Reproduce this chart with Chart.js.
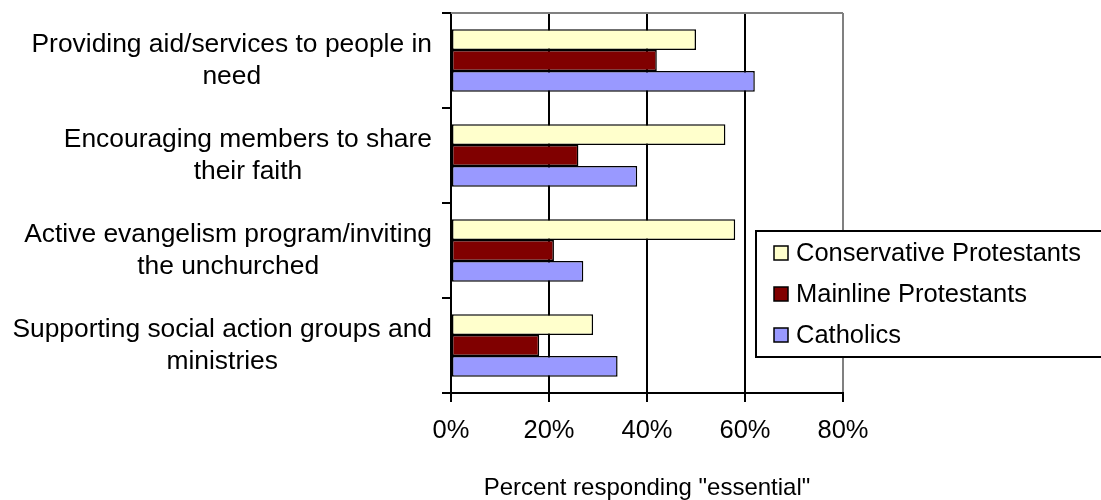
<!DOCTYPE html>
<html>
<head>
<meta charset="utf-8">
<script src="https://cdn.jsdelivr.net/npm/chart.js@4"></script>
<style>
  html, body { margin: 0; padding: 0; background: #fff; }
  #wrap { width: 1101px; height: 500px; position: relative; }
</style>
</head>
<body>
<div id="wrap"><canvas id="chart"></canvas></div>
<script>
// categorías (dos líneas por etiqueta, como en el original)
const categories = [
    ['Providing aid/services to people in', 'need'],
    ['Encouraging members to share', 'their faith'],
    ['Active evangelism program/inviting', 'the unchurched'],
    ['Supporting social action groups and', 'ministries']
];
const seriesNames = ['Conservative Protestants', 'Mainline Protestants', 'Catholics'];
const conservative = [50, 56, 58, 29];
const mainline = [42, 26, 21, 18];
const catholics = [62, 38, 27, 34];
const xTicks = [0, 20, 40, 60, 80];
const axisTitle = 'Percent responding "essential"';

const FONT = "'Liberation Sans', Arial, sans-serif";
const colors = ['#FFFFCC', '#800000', '#9999FF'];

// etiquetas del eje Y: bloque alineado a la derecha, líneas centradas
const yLabelsPlugin = {
    id: 'yLabels',
    afterDraw(chart) {
        const ctx = chart.ctx;
        const y = chart.scales.y;
        const rightEdge = y.right - 19;
        ctx.save();
        ctx.font = '26.4px ' + FONT;
        ctx.fillStyle = '#000';
        ctx.textAlign = 'center';
        ctx.textBaseline = 'middle';
        categories.forEach((lines, i) => {
            const cy = y.getPixelForValue(i);
            const w = Math.max(...lines.map(l => ctx.measureText(l).width));
            const cx = rightEdge - w / 2;
            lines.forEach((l, j) => {
                ctx.fillText(l, cx, cy + (j - (lines.length - 1) / 2) * 32);
            });
        });
        ctx.restore();
    }
};

// borde superior gris del área de trazado
const plotBorderPlugin = {
    id: 'plotBorder',
    beforeDatasetsDraw(chart) {
        const a = chart.chartArea;
        const ctx = chart.ctx;
        ctx.save();
        ctx.strokeStyle = '#808080';
        ctx.lineWidth = 2;
        ctx.beginPath();
        ctx.moveTo(a.left, a.top);
        ctx.lineTo(a.right, a.top);
        ctx.stroke();
        ctx.restore();
    }
};

// leyenda con recuadro, dentro del área del gráfico
const boxLegendPlugin = {
    id: 'boxLegend',
    afterDraw(chart) {
        const a = chart.chartArea;
        const ctx = chart.ctx;
        const left = a.right - 87;
        const top = 231;
        ctx.save();
        ctx.fillStyle = '#fff';
        ctx.strokeStyle = '#000';
        ctx.lineWidth = 2;
        ctx.fillRect(left, top, 400, 126);
        ctx.strokeRect(left, top, 400, 126);
        ctx.font = '25.5px ' + FONT;
        ctx.textBaseline = 'middle';
        ctx.textAlign = 'left';
        chart.data.datasets.forEach((ds, i) => {
            const cy = top + 22 + i * 41;
            ctx.fillStyle = ds.backgroundColor;
            ctx.fillRect(left + 18, cy - 7, 14, 14);
            ctx.lineWidth = 1.5;
            ctx.strokeRect(left + 18, cy - 7, 14, 14);
            ctx.fillStyle = '#000';
            ctx.fillText(ds.label, left + 40, cy + 1);
        });
        ctx.restore();
    }
};

const ctx = document.getElementById('chart');
new Chart(ctx, {
    type: 'bar',
    data: {
        labels: categories,
        datasets: [conservative, mainline, catholics].map((vals, i) => ({
            label: seriesNames[i],
            data: vals,
            backgroundColor: colors[i],
            borderColor: '#000',
            borderWidth: 1.5,
            borderSkipped: false,
            barPercentage: 1,
            categoryPercentage: 0.66
        }))
    },
    options: {
        indexAxis: 'y',
        responsive: true,
        maintainAspectRatio: false,
        animation: false,
        layout: {
            padding: { left: 0, top: 13, right: 258, bottom: 0 }
        },
        plugins: {
            legend: { display: false },
            tooltip: { enabled: false }
        },
        scales: {
            x: {
                min: 0,
                max: 80,
                afterBuildTicks: (scale) => {
                    scale.ticks = xTicks.map(v => ({ value: v }));
                },
                afterFit: (scale) => { scale.height = 107; },
                ticks: {
                    callback: (v) => v + '%',
                    color: '#000',
                    padding: 14,
                    font: { family: FONT, size: 25.5 }
                },
                grid: {
                    color: (c) => (c.tick && c.tick.value === 80) ? '#808080' : '#000',
                    lineWidth: 2,
                    tickColor: '#000',
                    tickLength: 9
                },
                border: { display: true, color: '#000', width: 2 },
                title: {
                    display: true,
                    text: axisTitle,
                    color: '#000',
                    font: { family: FONT, size: 24, lineHeight: 1 },
                    padding: { top: 0, bottom: 0 }
                }
            },
            y: {
                afterFit: (scale) => { scale.width = 451; },
                ticks: { display: false },
                grid: {
                    offset: true,
                    drawOnChartArea: false,
                    lineWidth: 2,
                    color: '#000',
                    tickColor: '#000',
                    tickLength: 9
                },
                border: { display: true, color: '#000', width: 2 }
            }
        }
    },
    plugins: [plotBorderPlugin, yLabelsPlugin, boxLegendPlugin]
});
</script>
</body>
</html>
